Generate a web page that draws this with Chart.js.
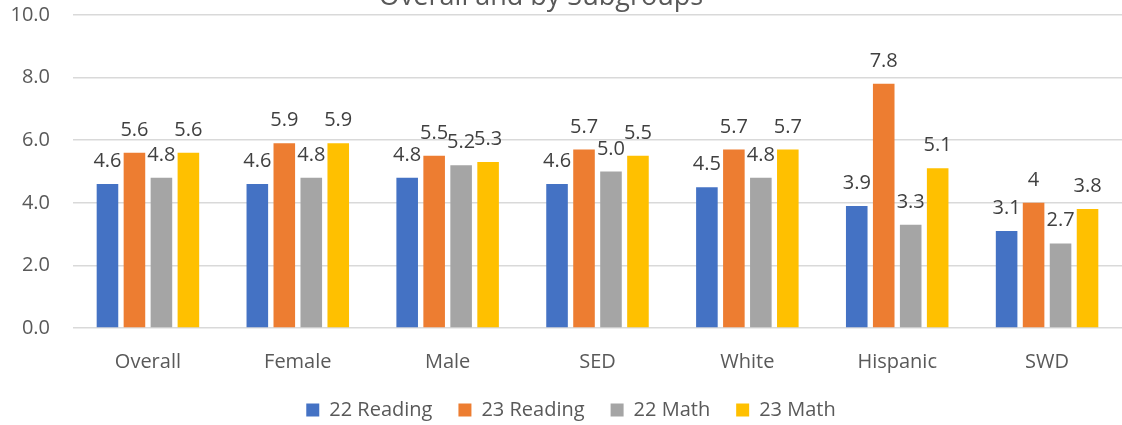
<!DOCTYPE html>
<html>
<head>
<meta charset="utf-8">
<script src="https://cdn.jsdelivr.net/npm/chart.js@4.4.1/dist/chart.umd.min.js"></script>
<style>
  html, body { margin: 0; padding: 0; background: #fff; }
  #wrap { position: relative; width: 1122px; height: 425px; overflow: hidden; }
  #c { position: absolute; left: 0; top: -20px; }
</style>
</head>
<body>
<div id="wrap"><canvas id="c" width="1122" height="450"></canvas></div>
<script>
const categories = ["Overall", "Female", "Male", "SED", "White", "Hispanic", "SWD"];
const reading22 = [4.6, 4.6, 4.8, 4.6, 4.5, 3.9, 3.1];
const reading23 = [5.6, 5.9, 5.5, 5.7, 5.7, 7.8, 4.0];
const math22 = [4.8, 4.8, 5.2, 5.0, 4.8, 3.3, 2.7];
const math23 = [5.6, 5.9, 5.3, 5.5, 5.7, 5.1, 3.8];
const seriesNames = ["22 Reading", "23 Reading", "22 Math", "23 Math"];
const seriesColors = ["#4472C4", "#ED7D31", "#A5A5A5", "#FFC000"];
// label shown as plain "4" in the source for SWD / 23 Reading
const labelOverrides = { "1-6": "4" };
const chartTitle = "Overall and by Subgroups";

const FONT = "'Open Sans', 'Noto Sans', sans-serif";
const TEXT = "#595959";

const valueLabels = {
  id: "valueLabels",
  afterDatasetsDraw(chart) {
    const ctx = chart.ctx;
    ctx.save();
    ctx.font = "20px " + FONT;
    ctx.fillStyle = "#404040";
    ctx.textAlign = "center";
    ctx.textBaseline = "alphabetic";
    chart.data.datasets.forEach((ds, di) => {
      const meta = chart.getDatasetMeta(di);
      meta.data.forEach((bar, i) => {
        const key = di + "-" + i;
        const txt = labelOverrides[key] !== undefined ? labelOverrides[key] : ds.data[i].toFixed(1);
        ctx.fillText(txt, bar.x, bar.y - 17);
      });
    });
    ctx.restore();
  }
};

const titlePlugin = {
  id: "topTitle",
  afterLayout(chart) {
    // legend in the source sits slightly right of the canvas centre
    if (chart.legend) { chart.legend.left = 20; }
  },
  afterDraw(chart) {
    const ctx = chart.ctx;
    ctx.save();
    ctx.font = "27px " + FONT;
    ctx.fillStyle = TEXT;
    ctx.textAlign = "center";
    ctx.textBaseline = "alphabetic";
    ctx.fillText(chartTitle, 541, 25);
    ctx.restore();
  }
};

const datasets = [reading22, reading23, math22, math23].map((d, i) => ({
  label: seriesNames[i],
  data: d,
  backgroundColor: seriesColors[i],
  borderWidth: 0,
  categoryPercentage: 0.72,
  barPercentage: 0.8
}));

new Chart(document.getElementById("c"), {
  type: "bar",
  data: { labels: categories, datasets },
  plugins: [valueLabels, titlePlugin],
  options: {
    responsive: false,
    devicePixelRatio: 1,
    animation: false,
    layout: { padding: { left: 0, right: 0, top: 35, bottom: 0 } },
    plugins: {
      title: { display: false },
      legend: {
        position: "bottom",
        labels: {
          color: TEXT,
          font: { family: FONT, size: 20 },
          boxWidth: 13,
          boxHeight: 13,
          padding: 26
        }
      },
      tooltip: { enabled: false }
    },
    scales: {
      x: {
        grid: { display: false, drawTicks: false },
        border: { display: false },
        ticks: { color: TEXT, font: { family: FONT, size: 20 }, padding: 22 },
        afterFit(scale) { scale.height = 46; }
      },
      y: {
        min: 0,
        max: 10,
        ticks: {
          stepSize: 2,
          color: TEXT,
          font: { family: FONT, size: 20 },
          padding: 23,
          callback: v => Number(v).toFixed(1)
        },
        grid: { color: "#D9D9D9", lineWidth: 1.5, drawTicks: false },
        border: { display: false },
        afterFit(scale) { scale.width = 73; }
      }
    }
  }
});
</script>
</body>
</html>
